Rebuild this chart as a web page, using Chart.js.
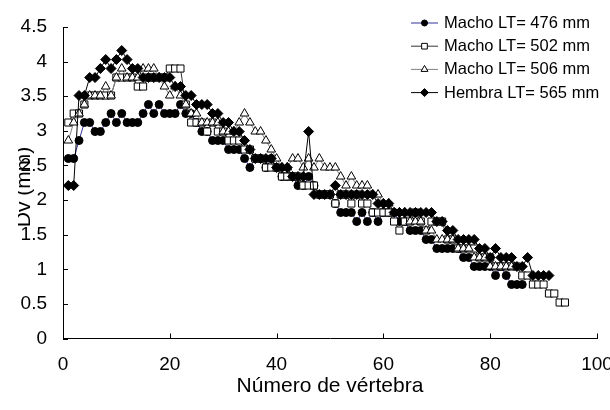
<!DOCTYPE html>
<html>
<head>
<meta charset="utf-8">
<script src="https://cdn.jsdelivr.net/npm/chart.js@4"></script>
<style>
  html, body { margin: 0; padding: 0; background: #fff; }
  #wrap { width: 610px; height: 410px; }
</style>
</head>
<body>
<div id="wrap"><canvas id="dvChart" width="610" height="410"></canvas></div>
<script>
// Dv (mm) per vertebra number, one list per specimen
var macho476 = [
  2.6, 2.6, 2.86, 3.12, 3.12, 2.99, 2.99, 3.12, 3.25, 3.12,
  3.25, 3.12, 3.12, 3.12, 3.25, 3.38, 3.25, 3.38, 3.25, 3.25,
  3.25, 3.38, 3.25, 3.25, 3.12, 2.99, 2.99, 2.86, 2.86, 2.86,
  2.73, 2.73, 2.73, 2.6, 2.47, 2.6, 2.6, 2.47, 2.6, 2.47,
  2.34, 2.34, 2.34, 2.21, 2.21, 2.34, 2.21, 2.08, 2.08, 2.08,
  1.95, 1.82, 1.82, 1.82, 1.69, 1.82, 1.69, 1.82, 1.69, 1.82,
  1.82, 1.82, 1.69, 1.69, 1.56, 1.56, 1.56, 1.43, 1.43, 1.3,
  1.3, 1.3, 1.3, 1.3, 1.17, 1.17, 1.04, 1.04, 1.04, 1.04,
  0.91, 1.04, 0.91, 0.78, 0.78, 0.78
];
var macho502 = [
  3.12, 3.25, 3.25, 3.38, 3.51, 3.51, 3.51, 3.51, 3.51, 3.77,
  3.77, 3.77, 3.77, 3.64, 3.64, 3.77, 3.77, 3.77, 3.77, 3.9,
  3.9, 3.9, 3.38, 3.12, 3.12, 3.12, 2.99, 3.12, 2.99, 2.99,
  2.86, 2.86, 2.86, 2.73, 2.73, 2.6, 2.6, 2.47, 2.47, 2.47,
  2.34, 2.34, 2.34, 2.34, 2.21, 2.21, 2.21, 2.08, 2.08, 2.08,
  1.95, 2.08, 2.08, 1.95, 2.08, 1.95, 1.95, 1.82, 1.82, 1.82,
  1.82, 1.69, 1.56, 1.69, 1.69, 1.82, 1.69, 1.56, 1.69, 1.69,
  1.69, 1.43, 1.43, 1.3, 1.3, 1.3, 1.3, 1.17, 1.17, 1.17,
  1.04, 1.04, 1.04, 1.04, 1.04, 0.91, 0.91, 0.78, 0.78, 0.78,
  0.65, 0.65, 0.52, 0.52
];
var macho506 = [
  2.86, 3.12, 3.25, 3.38, 3.51, 3.51, 3.51, 3.64, 3.51, 3.77,
  3.9, 3.77, 3.77, 3.77, 3.9, 3.9, 3.9, 3.77, 3.64, 3.51,
  3.64, 3.51, 3.38, 3.25, 3.25, 3.12, 3.12, 3.12, 3.12, 2.99,
  2.99, 2.99, 3.12, 3.25, 3.12, 2.99, 2.99, 2.86, 2.73, 2.6,
  2.47, 2.47, 2.6, 2.6, 2.47, 2.6, 2.47, 2.6, 2.47, 2.47,
  2.47, 2.34, 2.21, 2.34, 2.21, 2.21, 2.21, 2.08, 2.08, 1.95,
  1.95, 1.82, 1.82, 1.82, 1.69, 1.69, 1.69, 1.56, 1.56, 1.43,
  1.43, 1.43, 1.43, 1.3, 1.3, 1.3, 1.17, 1.17, 1.17, 1.04,
  1.04, 1.04, 1.04, 1.04
];
var hembra565 = [
  2.21, 2.21, 3.51, 3.51, 3.77, 3.77, 3.9, 4.03, 3.9, 4.03,
  4.16, 4.03, 3.9, 3.9, 3.77, 3.77, 3.77, 3.77, 3.77, 3.77,
  3.64, 3.64, 3.51, 3.51, 3.38, 3.38, 3.38, 3.25, 3.25, 3.12,
  3.12, 2.99, 2.99, 2.86, 2.73, 2.6, 2.6, 2.6, 2.6, 2.47,
  2.47, 2.47, 2.34, 2.34, 2.34, 2.99, 2.08, 2.08, 2.08, 2.08,
  2.21, 2.08, 2.08, 2.08, 2.08, 2.08, 2.08, 2.08, 1.95, 1.95,
  1.95, 1.82, 1.82, 1.82, 1.82, 1.82, 1.82, 1.82, 1.82, 1.69,
  1.69, 1.56, 1.56, 1.43, 1.43, 1.43, 1.43, 1.3, 1.3, 1.17,
  1.3, 1.17, 1.17, 1.17, 1.04, 1.04, 1.17, 0.91, 0.91, 0.91,
  0.91
];
var seriesNames = ["Macho LT= 476 mm", "Macho LT= 502 mm", "Macho LT= 506 mm", "Hembra LT= 565 mm"];
var yTicks = [0, 0.5, 1, 1.5, 2, 2.5, 3, 3.5, 4, 4.5];
var xTicks = [0, 20, 40, 60, 80, 100];

var FONT = "'Liberation Sans', Arial, sans-serif";

function toPoints(values) {
  return values.map(function (v, i) { return { x: i + 1, y: v }; });
}

var styles = [
  { line: "#333399", shape: "circle", fill: "#000", r: 4 },
  { line: "#333333", shape: "rect", fill: "#fff", r: 5 },
  { line: "#808080", shape: "triangle", fill: "#fff", r: 5 },
  { line: "#000000", shape: "rectRot", fill: "#000", r: 5 }
];
var allValues = [macho476, macho502, macho506, hembra565];

var datasets = allValues.map(function (vals, i) {
  var s = styles[i];
  return {
    label: seriesNames[i],
    data: toPoints(vals),
    showLine: true,
    borderColor: s.line,
    borderWidth: 1,
    pointStyle: s.shape,
    pointRadius: s.r,
    pointBackgroundColor: s.fill,
    pointBorderColor: "#000",
    pointBorderWidth: 1,
    order: 4 - i
  };
});

function drawMarker(ctx, shape, x, y, r, fill) {
  ctx.save();
  ctx.fillStyle = fill;
  ctx.strokeStyle = "#000";
  ctx.lineWidth = 1;
  ctx.beginPath();
  if (shape === "circle") {
    ctx.arc(x, y, r, 0, Math.PI * 2);
  } else if (shape === "rect") {
    var h = r * Math.SQRT1_2;
    ctx.rect(x - h, y - h, 2 * h, 2 * h);
  } else if (shape === "triangle") {
    ctx.moveTo(x, y - r);
    ctx.lineTo(x + r * 0.866, y + r * 0.5);
    ctx.lineTo(x - r * 0.866, y + r * 0.5);
    ctx.closePath();
  } else {
    ctx.moveTo(x, y - r);
    ctx.lineTo(x + r, y);
    ctx.lineTo(x, y + r);
    ctx.lineTo(x - r, y);
    ctx.closePath();
  }
  ctx.fill();
  ctx.stroke();
  ctx.restore();
}

// inside tick marks, rotated y title, and the legend over the plot
var extras = {
  id: "extras",
  beforeDraw: function (chart) {
    var ctx = chart.ctx;
    ctx.save();
    ctx.beginPath();
    ctx.rect(18, 0, 100, 410);
    ctx.clip();
    ctx.translate(30, 187);
    ctx.rotate(-Math.PI / 2);
    ctx.fillStyle = "#000";
    ctx.font = "21px " + FONT;
    ctx.textAlign = "center";
    ctx.textBaseline = "alphabetic";
    ctx.fillText("Dv (mm)", 0, 0);
    ctx.restore();
  },
  afterDraw: function (chart) {
    var ctx = chart.ctx;
    var xs = chart.scales.x, ys = chart.scales.y;
    var area = chart.chartArea;
    ctx.save();
    ctx.strokeStyle = "#000";
    ctx.lineWidth = 1;
    ctx.beginPath();
    yTicks.forEach(function (t) {
      var py = Math.round(ys.getPixelForValue(t)) + 0.5;
      ctx.moveTo(area.left, py);
      ctx.lineTo(area.left + 5, py);
    });
    xTicks.forEach(function (t) {
      var px = Math.round(xs.getPixelForValue(t)) + 0.5;
      ctx.moveTo(px, area.bottom);
      ctx.lineTo(px, area.bottom - 5);
    });
    ctx.stroke();

    var lx = 411, ly = 22.5, step = 23.2;
    ctx.font = "16.5px " + FONT;
    ctx.textBaseline = "middle";
    ctx.textAlign = "left";
    seriesNames.forEach(function (name, i) {
      var y = ly + i * step;
      var s = styles[i];
      ctx.strokeStyle = s.line;
      ctx.beginPath();
      ctx.moveTo(lx, y + 0.5);
      ctx.lineTo(lx + 27, y + 0.5);
      ctx.stroke();
      drawMarker(ctx, s.shape, lx + 13.5, y + 0.5, s.r - 1, s.fill);
      ctx.fillStyle = "#000";
      ctx.fillText(name, lx + 33, y + 1);
    });
    ctx.restore();
  }
};

Chart.defaults.color = "#000";
Chart.defaults.font.family = FONT;

var ctx = document.getElementById("dvChart").getContext("2d");
var dvChart = new Chart(ctx, {
  type: "scatter",
  data: { datasets: datasets },
  options: {
    responsive: false,
    animation: false,
    layout: { padding: { top: 27, right: 13, left: 0, bottom: 0 } },
    plugins: {
      legend: { display: false },
      tooltip: { enabled: false }
    },
    scales: {
      x: {
        type: "linear",
        min: 0,
        max: 100,
        afterBuildTicks: function (scale) {
          scale.ticks = xTicks.map(function (v) { return { value: v }; });
        },
        afterFit: function (scale) {
          scale.height = 71.5;
          scale.paddingLeft = 0;
          scale.paddingRight = 0;
        },
        grid: { display: false, drawTicks: false },
        border: { display: true, color: "#000", width: 1 },
        ticks: {
          font: { size: 19 },
          padding: 15,
          maxRotation: 0,
          callback: function (v) { return String(v); }
        },
        title: {
          display: true,
          text: "Número de vértebra",
          font: { size: 21 },
          padding: { top: 0, bottom: 11 }
        }
      },
      y: {
        type: "linear",
        min: 0,
        max: 4.5,
        afterBuildTicks: function (scale) {
          scale.ticks = yTicks.map(function (v) { return { value: v }; });
        },
        afterFit: function (scale) {
          scale.width = 63;
          scale.paddingTop = 0;
          scale.paddingBottom = 0;
        },
        grid: { display: false, drawTicks: false },
        border: { display: true, color: "#000", width: 1 },
        ticks: {
          font: { size: 19 },
          padding: 16,
          callback: function (v) { return String(v); }
        }
      }
    }
  },
  plugins: [extras]
});
</script>
</body>
</html>
